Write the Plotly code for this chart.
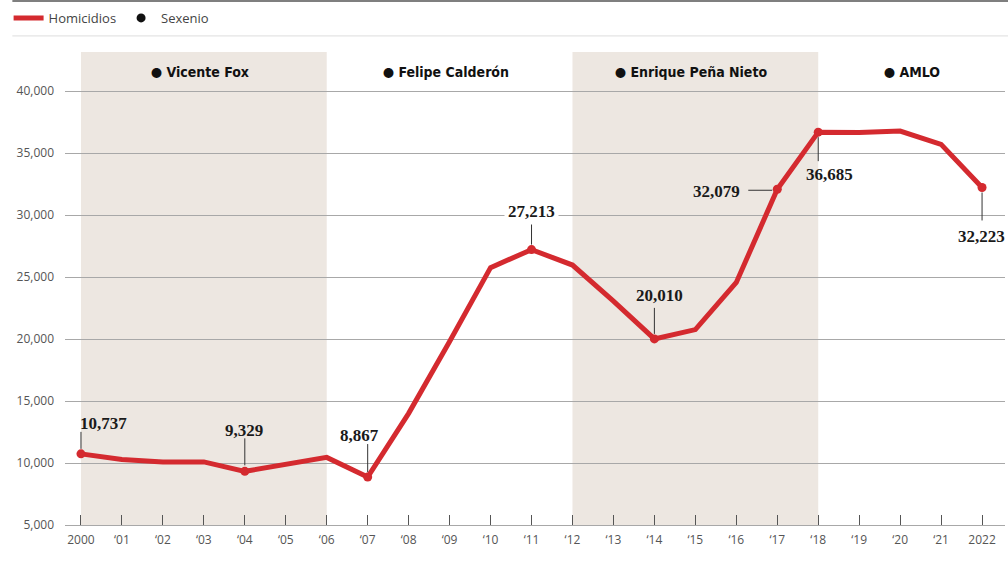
import plotly.graph_objects as go

# ---------------- data ----------------
years = list(range(2000, 2023))
homicidios = [10737, 10285, 10088, 10087, 9329, 9921, 10452, 8867, 14006, 19803,
              25757, 27213, 25967, 23063, 20010, 20762, 24559, 32079, 36685, 36661,
              36773, 35700, 32223]
tick_labels = ["2000", "‘01", "‘02", "‘03", "‘04", "‘05", "‘06", "‘07", "‘08", "‘09",
               "‘10", "‘11", "‘12", "‘13", "‘14", "‘15", "‘16", "‘17", "‘18", "‘19",
               "‘20", "‘21", "2022"]
labelled_years = [2000, 2004, 2007, 2011, 2014, 2017, 2018, 2022]

sexenio_names = ["Vicente Fox", "Felipe Calderón", "Enrique Peña Nieto", "AMLO"]
sexenio_start = [2000, 2006, 2012, 2018]
sexenio_end = [2006, 2012, 2018, 2024]
sexenio_shaded = [True, False, True, False]

y_ticks = [5000, 10000, 15000, 20000, 25000, 30000, 35000, 40000]

# ---------------- style ----------------
RED = "#d42a2f"
BAND = "#ede7e1"
GRID = "#a8a8a8"
X_RANGE = [1999.61, 2022.56]
Y_RANGE = [5000, 43150]

# per-label placement (pixels): text shift, leader line, white background
label_style = {
    2000: dict(tx=23, ty=30, line=("v", 5, 22), bg=False),
    2004: dict(tx=-1, ty=41, line=("v", 6, 33), bg=False),
    2007: dict(tx=-8, ty=42, line=("v", 5, 33), bg=False),
    2011: dict(tx=0, ty=38, line=("v", 5, 26), bg=True),
    2014: dict(tx=5, ty=43, line=("v", 5, 31), bg=False),
    2017: dict(tx=-61, ty=-2, line=("h", -29, -5), bg=False),
    2018: dict(tx=11, ty=-42, line=("v", -5, -29), bg=False),
    2022: dict(tx=-1, ty=-49, line=("v", -5, -33), bg=False),
}

fig = go.Figure()

fig.add_trace(go.Scatter(
    x=years, y=homicidios, mode="lines", name="Homicidios",
    line=dict(color=RED, width=5), hoverinfo="x+y"))

lab_vals = [homicidios[years.index(y)] for y in labelled_years]
fig.add_trace(go.Scatter(
    x=labelled_years, y=lab_vals, mode="markers", showlegend=False,
    marker=dict(color=RED, size=9)))

fig.add_trace(go.Scatter(
    x=[None], y=[None], mode="markers", name="Sexenio",
    marker=dict(color="#111111", size=9)))

shapes = []
annotations = []

DOT = '<span style="font-family:\'Noto Sans CJK JP\';font-size:11px">●</span> '

# sexenio bands and labels
for name, s, e, shaded in zip(sexenio_names, sexenio_start, sexenio_end, sexenio_shaded):
    e_vis = min(e, X_RANGE[1])
    if shaded:
        shapes.append(dict(type="rect", xref="x", yref="paper", x0=s, x1=e_vis,
                           y0=0, y1=1, fillcolor=BAND, line=dict(width=0),
                           layer="below"))
    annotations.append(dict(
        x=(s + e_vis) / 2 - (0.1 if e <= X_RANGE[1] else 0), y=0.958,
        xref="x", yref="paper", yanchor="middle",
        text=DOT + name, showarrow=False,
        font=dict(family="DejaVu Sans Condensed, Liberation Sans Narrow, sans-serif",
                  size=14, color="#111111", weight="bold")))

# value labels with leader lines
for yr, v in zip(labelled_years, lab_vals):
    st = label_style[yr]
    kind, a, b = st["line"]
    if kind == "v":
        shapes.append(dict(type="line", xref="x", yref="y", xsizemode="pixel",
                           ysizemode="pixel", xanchor=yr, yanchor=v,
                           x0=0, x1=0, y0=a, y1=b,
                           line=dict(color="#333333", width=1)))
    else:
        shapes.append(dict(type="line", xref="x", yref="y", xsizemode="pixel",
                           ysizemode="pixel", xanchor=yr, yanchor=v,
                           x0=a, x1=b, y0=-1, y1=-1,
                           line=dict(color="#333333", width=1)))
    annotations.append(dict(
        x=yr, y=v, xref="x", yref="y", text=f"{v:,}", showarrow=False,
        xshift=st["tx"], yshift=st["ty"],
        bgcolor="white" if st["bg"] else "rgba(0,0,0,0)", borderpad=3,
        font=dict(family="Liberation Serif, DejaVu Serif, serif", size=17,
                  color="#1a1a1a", weight="bold")))

# top rules
shapes.append(dict(type="line", xref="paper", yref="paper", x0=-0.056, x1=1.01,
                   y0=1.108, y1=1.108, line=dict(color="#555555", width=1.5)))
shapes.append(dict(type="line", xref="paper", yref="paper", x0=-0.056, x1=1.01,
                   y0=1.034, y1=1.034, line=dict(color="#dddddd", width=1)))

fig.update_layout(
    width=1008, height=567,
    margin=dict(l=65, r=3, t=52, b=42),
    paper_bgcolor="white", plot_bgcolor="white",
    shapes=shapes, annotations=annotations,
    showlegend=True,
    legend=dict(orientation="h", x=-0.06, y=1.072, xanchor="left", yanchor="middle",
                font=dict(family="Open Sans, sans-serif", size=13, color="#444444"),
                bgcolor="rgba(0,0,0,0)"),
    xaxis=dict(range=X_RANGE, tickmode="array", tickvals=years, ticktext=tick_labels,
               ticks="inside", ticklen=10, tickcolor="#555555", tickwidth=1,
               showgrid=False, zeroline=False, showline=True, linecolor=GRID,
               linewidth=1, ticklabelstandoff=4,
               tickfont=dict(family="Open Sans, sans-serif", size=12, color="#555555")),
    yaxis=dict(range=Y_RANGE, tickmode="array", tickvals=y_ticks,
               ticktext=[f"{t:,}" for t in y_ticks],
               showgrid=True, gridcolor=GRID, gridwidth=1, zeroline=False,
               showline=False, ticks="", ticklabelstandoff=10,
               tickfont=dict(family="Open Sans, sans-serif", size=12, color="#555555")),
)

fig.write_html("out.html", config={"displayModeBar": False},
               post_script="document.body.style.margin='0';")
